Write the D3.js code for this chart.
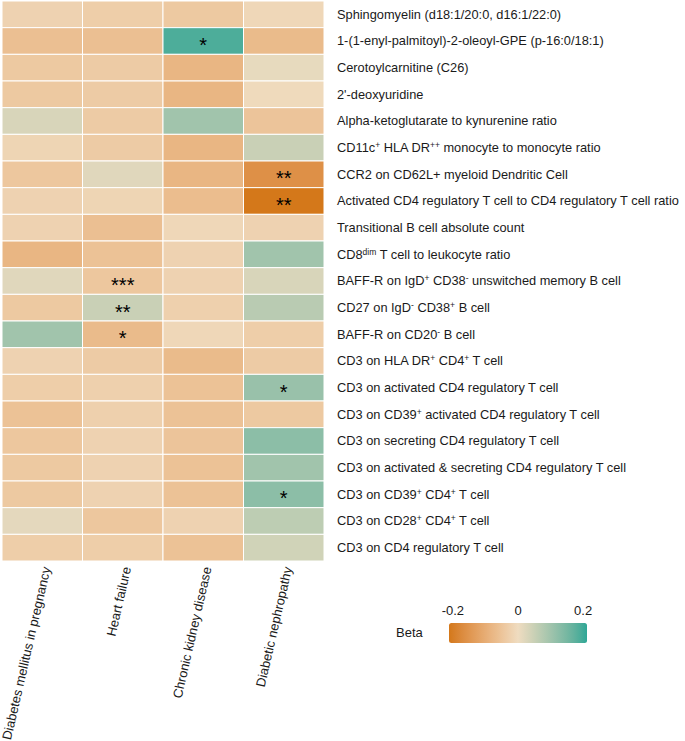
<!DOCTYPE html>
<html>
<head>
<meta charset="utf-8">
<script src="https://cdn.jsdelivr.net/npm/d3@7"></script>
<style>
  body { margin: 0; background: #fff; }
  text { font-family: "Liberation Sans", Arial, sans-serif; }
</style>
</head>
<body>
<div id="chart"></div>
<script>
const diseases = ["Diabetes mellitus in pregnancy", "Heart failure", "Chronic kidney disease", "Diabetic nephropathy"];

// row labels: plain text parts and superscript parts
const traits = [
  [["Sphingomyelin (d18:1/20:0, d16:1/22:0)"]],
  [["1-(1-enyl-palmitoyl)-2-oleoyl-GPE (p-16:0/18:1)"]],
  [["Cerotoylcarnitine (C26)"]],
  [["2'-deoxyuridine"]],
  [["Alpha-ketoglutarate to kynurenine ratio"]],
  [["CD11c"], ["+", 1], [" HLA DR"], ["++", 1], [" monocyte to monocyte ratio"]],
  [["CCR2 on CD62L+ myeloid Dendritic Cell"]],
  [["Activated CD4 regulatory T cell to CD4 regulatory T cell ratio"]],
  [["Transitional B cell absolute count"]],
  [["CD8"], ["dim", 1], [" T cell to leukocyte ratio"]],
  [["BAFF-R on IgD"], ["+", 1], [" CD38"], ["-", 1], [" unswitched memory B cell"]],
  [["CD27 on IgD"], ["-", 1], [" CD38"], ["+", 1], [" B cell"]],
  [["BAFF-R on CD20"], ["-", 1], [" B cell"]],
  [["CD3 on HLA DR"], ["+", 1], [" CD4"], ["+", 1], [" T cell"]],
  [["CD3 on activated CD4 regulatory T cell"]],
  [["CD3 on CD39"], ["+", 1], [" activated CD4 regulatory T cell"]],
  [["CD3 on secreting CD4 regulatory T cell"]],
  [["CD3 on activated & secreting CD4 regulatory T cell"]],
  [["CD3 on CD39"], ["+", 1], [" CD4"], ["+", 1], [" T cell"]],
  [["CD3 on CD28"], ["+", 1], [" CD4"], ["+", 1], [" T cell"]],
  [["CD3 on CD4 regulatory T cell"]]
];

// beta per trait, one array per disease column
const betaDMP = [-0.02, -0.06, -0.04, -0.04, 0.03, -0.015, -0.045, -0.02, -0.02, -0.08, 0.02, -0.04, 0.10, -0.02, -0.03, -0.055, -0.045, -0.04, -0.04, 0.015, -0.03];
const betaHF  = [-0.03, -0.06, -0.035, -0.035, -0.035, -0.035, 0.02, -0.015, -0.06, -0.055, -0.045, 0.05, -0.07, -0.035, -0.025, -0.025, -0.02, -0.02, -0.02, -0.045, -0.03];
const betaCKD = [-0.04, 0.19, -0.08, -0.08, 0.10, -0.08, -0.08, -0.065, -0.01, -0.02, -0.02, -0.025, -0.01, -0.07, -0.055, -0.055, -0.05, -0.055, -0.055, -0.02, -0.055];
const betaDN  = [-0.01, -0.07, 0.01, -0.005, -0.05, 0.05, -0.16, -0.212, -0.02, 0.10, 0.03, 0.07, -0.03, -0.035, 0.11, -0.04, 0.125, 0.10, 0.125, 0.065, 0.04];

const starsDMP = ["", "", "", "", "", "", "", "", "", "", "", "", "", "", "", "", "", "", "", "", ""];
const starsHF  = ["", "", "", "", "", "", "", "", "", "", "***", "**", "*", "", "", "", "", "", "", "", ""];
const starsCKD = ["", "*", "", "", "", "", "", "", "", "", "", "", "", "", "", "", "", "", "", "", ""];
const starsDN  = ["", "", "", "", "", "", "**", "**", "", "", "", "", "", "", "*", "", "", "", "*", "", ""];

const legendTicks = [-0.2, 0, 0.2];

const betas = [betaDMP, betaHF, betaCKD, betaDN];
const stars = [starsDMP, starsHF, starsCKD, starsDN];

const cells = [];
diseases.forEach((d, i) => {
  traits.forEach((t, j) => {
    cells.push({ col: d, row: j, beta: betas[i][j], star: stars[i][j] });
  });
});

const width = 685, height = 741;
const grid = { left: 2, right: 324, top: 1, bottom: 561 };

const svg = d3.select("#chart").append("svg")
  .attr("width", width)
  .attr("height", height);

const x = d3.scaleBand().domain(diseases).range([grid.left, grid.right]);
const y = d3.scaleBand().domain(d3.range(traits.length)).range([grid.top, grid.bottom]);

const color = d3.scaleLinear()
  .domain([-0.212, 0, 0.212])
  .range(["#d4781a", "#efdcc0", "#2ea796"])
  .interpolate(d3.interpolateLab)
  .clamp(true);

// cells
svg.append("g").selectAll("rect")
  .data(cells)
  .enter()
  .append("rect")
  .attr("x", d => x(d.col))
  .attr("y", d => y(d.row))
  .attr("width", x.bandwidth())
  .attr("height", y.bandwidth())
  .attr("fill", d => color(d.beta))
  .attr("stroke", "#fff")
  .attr("stroke-width", 1);

// significance stars
svg.append("g").selectAll("text")
  .data(cells.filter(d => d.star))
  .enter()
  .append("text")
  .attr("x", d => x(d.col) + x.bandwidth() / 2)
  .attr("y", d => y(d.row) + y.bandwidth() / 2 + 11)
  .attr("text-anchor", "middle")
  .attr("font-size", "20px")
  .attr("fill", "#000")
  .text(d => d.star);

// row labels
const rowLabels = svg.append("g").selectAll("text")
  .data(traits)
  .enter()
  .append("text")
  .attr("x", 337)
  .attr("y", (d, i) => y(i) + y.bandwidth() / 2)
  .attr("dy", "0.35em")
  .attr("font-size", "12.8px")
  .attr("fill", "#1a1a1a");

rowLabels.each(function (parts) {
  const t = d3.select(this);
  let raised = false;
  parts.forEach(p => {
    const span = t.append("tspan").text(p[0]);
    if (p[1]) {
      span.attr("font-size", "8.5px").attr("dy", raised ? null : -4);
      raised = true;
    } else if (raised) {
      span.attr("dy", 4);
      raised = false;
    }
  });
});

// column labels
svg.append("g").selectAll("text")
  .data(diseases)
  .enter()
  .append("text")
  .attr("transform", d => `translate(${x(d) + x.bandwidth() / 2 + 4}, 567) rotate(-77)`)
  .attr("text-anchor", "end")
  .attr("dy", "0.35em")
  .attr("font-size", "13px")
  .attr("fill", "#1a1a1a")
  .text(d => d);

// legend
const lx = d3.scaleLinear().domain([-0.212, 0.212]).range([449, 587]);

const defs = svg.append("defs");
const grad = defs.append("linearGradient").attr("id", "betaGrad");
d3.range(0, 1.0001, 0.05).forEach(t => {
  grad.append("stop")
    .attr("offset", `${t * 100}%`)
    .attr("stop-color", color(-0.212 + t * 0.424));
});

svg.append("rect")
  .attr("x", lx.range()[0])
  .attr("y", 623)
  .attr("width", lx.range()[1] - lx.range()[0])
  .attr("height", 20)
  .attr("rx", 2.5)
  .attr("fill", "url(#betaGrad)");

svg.append("g").selectAll("text")
  .data(legendTicks)
  .enter()
  .append("text")
  .attr("x", d => lx(d))
  .attr("y", 615)
  .attr("text-anchor", "middle")
  .attr("font-size", "13px")
  .attr("fill", "#1a1a1a")
  .text(d => d === 0 ? "0" : d3.format(".1f")(d).replace("−", "-"));

svg.append("text")
  .attr("x", 396)
  .attr("y", 637)
  .attr("font-size", "13px")
  .attr("fill", "#1a1a1a")
  .text("Beta");
</script>
</body>
</html>
